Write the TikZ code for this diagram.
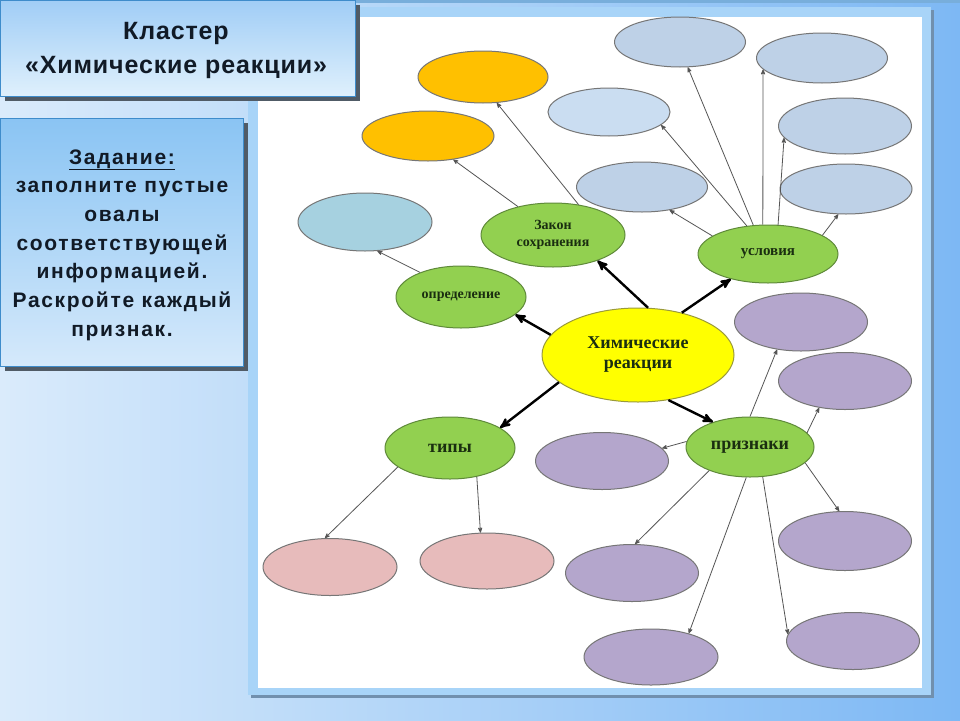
\documentclass[tikz,border=0pt]{standalone}
\usepackage{fontspec}
\setmainfont{Liberation Serif}
\newfontfamily\hdfont{Liberation Sans}
\newfontfamily\taskfont[LetterSpace=8]{Liberation Sans}
\newfontfamily\ttlfont[LetterSpace=3.5]{Liberation Sans}
\usepackage{tikz}
\usetikzlibrary{shapes.geometric,arrows}
\usepackage{xcolor}

\definecolor{bgl}{HTML}{DAEBFB}
\definecolor{bgm}{HTML}{B6D5F7}
\definecolor{bgr}{HTML}{7DB8F4}
\definecolor{framec}{HTML}{A8D4F8}
\definecolor{shadowc}{HTML}{7190AE}
\definecolor{boxshadow}{HTML}{505B66}
\definecolor{boxline}{HTML}{3E8CCB}
\definecolor{titletop}{HTML}{A0CDF6}
\definecolor{titlebot}{HTML}{DFF0FC}
\definecolor{tasktop}{HTML}{8AC4F3}
\definecolor{taskbot}{HTML}{D5E9FB}
\definecolor{inktext}{HTML}{111A26}
\definecolor{grn}{HTML}{92D050}
\definecolor{grnline}{HTML}{5F8A3A}
\definecolor{txtgrn}{HTML}{1A2E10}
\definecolor{ylw}{HTML}{FFFF00}
\definecolor{ylwline}{HTML}{9A9A3A}
\definecolor{orng}{HTML}{FFC000}
\definecolor{teal}{HTML}{A6D1E0}
\definecolor{bgray}{HTML}{BED1E7}
\definecolor{bgrayl}{HTML}{CADDF1}
\definecolor{purp}{HTML}{B4A6CC}
\definecolor{pink}{HTML}{E7BBBB}
\definecolor{ovlline}{HTML}{767676}
\definecolor{arrgray}{HTML}{555555}

\begin{document}
\begin{tikzpicture}[x=1pt,y=-1pt,>=stealth',
    ovl/.style={ellipse,draw=ovlline,line width=1pt,inner sep=0pt},
    sz/.style 2 args={minimum width=#1pt,minimum height=#2pt},
    key/.style={ovl,fill=grn,draw=grnline,text=txtgrn,align=center},
    thin/.style={->,draw=arrgray,line width=0.8pt},
    thick/.style={->,line width=2.4pt}]
\useasboundingbox (0,0) rectangle (960,720);

% background and white sheet
\shade[left color=bgl,middle color=bgm,right color=bgr] (0,0) rectangle (960,720);
\fill[boxline!70] (240,0) rectangle (960,3);
\fill[shadowc] (251,10) rectangle (934,698);
\fill[framec] (248,7) rectangle (931,695);
\fill[white] (258,17) rectangle (922,688);

% title and task boxes
\fill[boxshadow] (5,5) rectangle (360,101);
\shade[top color=titletop,bottom color=titlebot,draw=boxline] (0,0) rectangle (355,96);
\node[font=\ttlfont\bfseries\fontsize{25}{34}\selectfont,text=inktext,align=center] (ttl) at (176,50)
  {Кластер\\«Химические реакции»};
\fill[boxshadow] (5,123) rectangle (248,371);
\shade[top color=tasktop,bottom color=taskbot,draw=boxline] (0,118) rectangle (243,366);
\node[font=\taskfont\bfseries\fontsize{21}{28.7}\selectfont,text=inktext,align=center] (task) at (122,245)
  {\underline{Задание:}\\заполните пустые\\овалы\\соответствующей\\информацией.\\Раскройте каждый\\признак.};

% main ovals
\node[key,sz={192}{94},fill=ylw,draw=ylwline,font=\bfseries\fontsize{18}{20}\selectfont] (hr) at (638,355) {Химические\\реакции};
\node[key,sz={130}{62},font=\bfseries\fontsize{14}{16}\selectfont] (opr) at (461,297) {определение};
\node[key,sz={144}{64},font=\bfseries\fontsize{14}{17}\selectfont] (zak) at (553,235) {Закон\\сохранения};
\node[key,sz={140}{58},font=\bfseries\fontsize{15}{17}\selectfont] (usl) at (768,254) {условия};
\node[key,sz={130}{62},font=\bfseries\fontsize{18}{20}\selectfont] (tip) at (450,448) {типы};
\node[key,sz={128}{60},font=\bfseries\fontsize{18}{20}\selectfont] (prz) at (750,447) {признаки};

% empty ovals
\node[ovl,sz={134}{58},fill=teal] (o1) at (365,222) {};
\node[ovl,sz={130}{52},fill=orng] (z1) at (483,77) {};
\node[ovl,sz={132}{50},fill=orng] (z2) at (428,136) {};
\node[ovl,sz={131}{50},fill=bgray] (u1) at (680,42) {};
\node[ovl,sz={131}{50},fill=bgray] (u2) at (822,58) {};
\node[ovl,sz={122}{48},fill=bgrayl] (u3) at (609,112) {};
\node[ovl,sz={131}{50},fill=bgray] (u4) at (642,187) {};
\node[ovl,sz={133}{56},fill=bgray] (u5) at (845,126) {};
\node[ovl,sz={132}{50},fill=bgray] (u6) at (846,189) {};
\node[ovl,sz={134}{57},fill=pink] (t1) at (330,567) {};
\node[ovl,sz={134}{56},fill=pink] (t2) at (487,561) {};
\node[ovl,sz={133}{58},fill=purp] (p1) at (801,322) {};
\node[ovl,sz={133}{57},fill=purp] (p2) at (845,381) {};
\node[ovl,sz={133}{57},fill=purp] (p3) at (602,461) {};
\node[ovl,sz={133}{59},fill=purp] (p4) at (845,541) {};
\node[ovl,sz={133}{57},fill=purp] (p5) at (632,573) {};
\node[ovl,sz={134}{56},fill=purp] (p6) at (651,657) {};
\node[ovl,sz={133}{57},fill=purp] (p7) at (853,641) {};

% thick arrows from the centre
\draw[thick] (hr.167) -- (opr.-18);
\draw[thick] (hr.78) -- (zak.-30);
\draw[thick] (hr.44) -- (usl.-146);
\draw[thick] (hr.199) -- (tip.22);
\draw[thick] (hr.-56) -- (prz.146);

% thin arrows
\draw[thin] (opr.149) -- (o1.-67);
\draw[thin] (zak.141) -- (z2.-43);
\draw[thin] (zak.50) -- (z1.-62);
\draw[thin] (usl.117) -- (u1.-73);
\draw[thin] (usl.100) -- (u2.191);
\draw[thin] (usl.127) -- (u3.-14);
\draw[thin] (usl.162) -- (u4.-40);
\draw[thin] (usl.71) -- (u5.191);
\draw[thin] (usl.19) -- (u6.-107);
\draw[thin] (tip.200) -- (t1.100);
\draw[thin] (tip.-47) -- (t2.103);
\draw[thin] (prz.90) -- (p1.-131);
\draw[thin] (prz.14) -- (p2.-134);
\draw[thin] (prz.175) -- (p3.12);
\draw[thin] (prz.-16) -- (p4.101);
\draw[thin] (prz.210) -- (p5.84);
\draw[thin] (prz.-97) -- (p6.32);
\draw[thin] (prz.-67) -- (p7.174);
\end{tikzpicture}
\end{document}
